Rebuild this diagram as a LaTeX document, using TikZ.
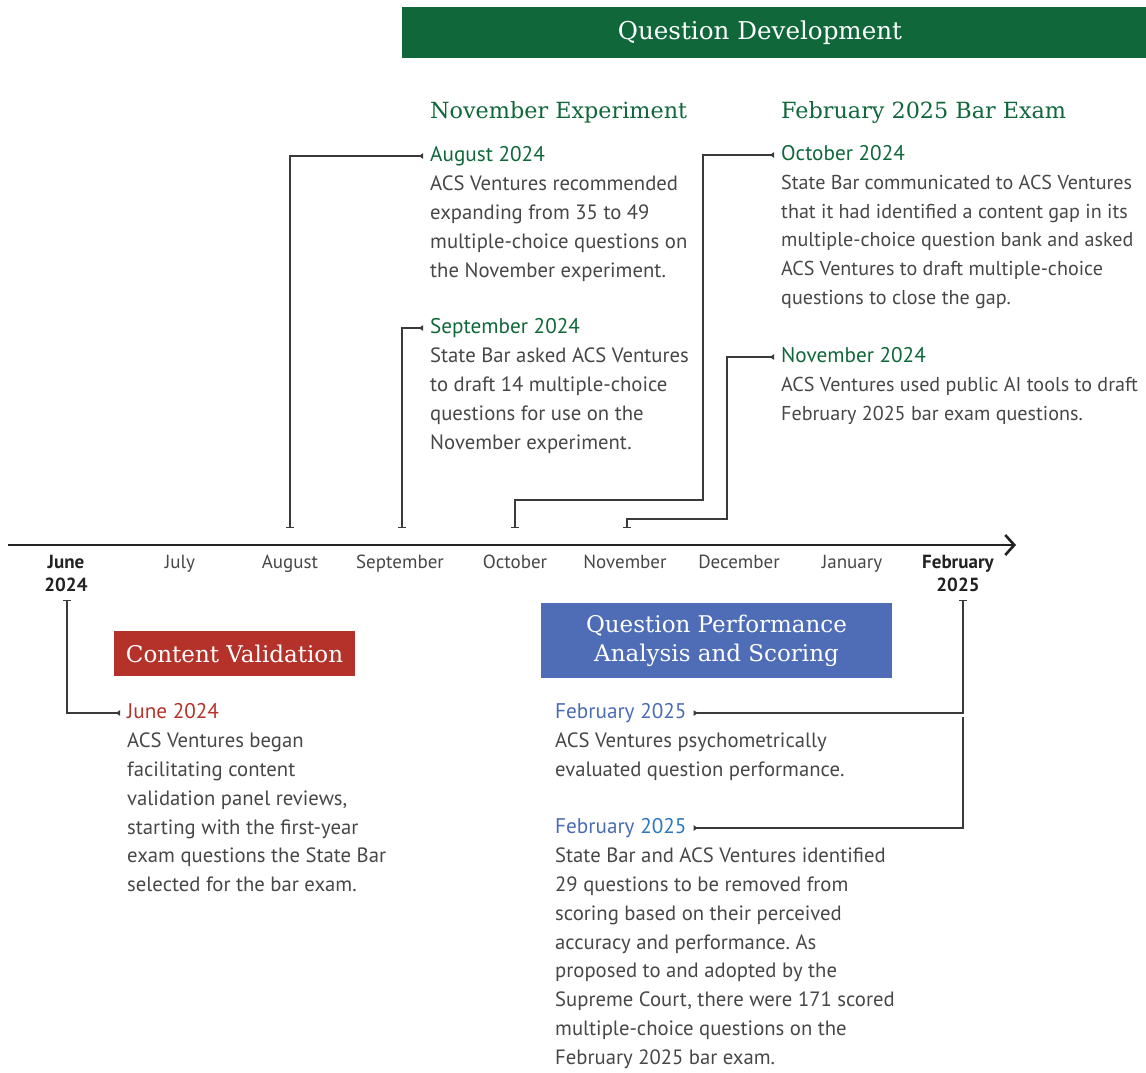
\documentclass[tikz,border=0pt]{standalone}
\usepackage{fontspec}
\setmainfont{PT Sans}
\newfontfamily\slabfont{DejaVu Serif}
\frenchspacing
\usetikzlibrary{arrows.meta, positioning}
\definecolor{devgreen}{HTML}{0F673A}
\definecolor{valred}{HTML}{B5322A}
\definecolor{perfblue}{HTML}{4F6DB7}
\definecolor{perfbluetext}{HTML}{4A6CB5}
\definecolor{brightblue}{HTML}{2B78C0}
\definecolor{bodygray}{HTML}{474747}
\definecolor{axisgray}{HTML}{222222}
\definecolor{conngray}{HTML}{3A3A3A}
\tikzset{
  phasebox/.style={inner sep=0pt, text=white, align=center, font=\slabfont\fontsize{23}{29}\selectfont},
  subhead/.style={anchor=base west, inner sep=0pt, text=devgreen, font=\slabfont\fontsize{22.3}{26}\selectfont},
  datelbl/.style={inner sep=0pt, text height=15pt, text depth=4pt, font=\fontsize{21.2}{25}\selectfont},
  body/.style={anchor=north west, inner sep=0pt, align=left, text=bodygray, font=\fontsize{20.7}{28.8}\selectfont},
  narrowbody/.style={body, font=\fontsize{20.1}{28.8}\selectfont},
  month/.style={anchor=north, inner sep=0pt, align=center, text=bodygray, font=\fontsize{19}{22.5}\selectfont},
  conn/.style={line width=1.1pt, draw=conngray, {Bar[width=8pt,line width=1.1pt]}-{Latex[reversed,length=5pt,width=6pt]}, shorten >=7pt},
  connsplit/.style={line width=1.1pt, draw=conngray, -{Latex[reversed,length=5pt,width=6pt]}, shorten >=7pt},
  axisline/.style={line width=2.6pt, draw=axisgray, -{Straight Barb[length=9pt,width=20pt,line width=2.6pt]}}
}

\begin{document}
\begin{tikzpicture}[x=1pt, y=-1pt]
  \useasboundingbox (0,0) rectangle (1146,1072);

  % phase boxes
  \node[phasebox, fill=devgreen, minimum width=744pt, minimum height=51pt, font=\slabfont\fontsize{24.6}{29}\selectfont] (qdev) at (774,32.5) {Question Development\hspace{28pt}};
  \node[phasebox, fill=valred, minimum width=241pt, minimum height=45pt] (cval) at (234.5,653.5) {Content Validation};
  \node[phasebox, fill=perfblue, minimum width=351pt, minimum height=75pt] (qperf) at (716.5,640.5) {Question Performance\\Analysis and Scoring};

  \node[subhead] (novexp) at (430,118) {November Experiment};
  \node[subhead] (febexam) at (781,118) {February 2025 Bar Exam};

  % timeline
  \coordinate (axstart) at (8,545);
  \coordinate (axend) at (1016,545);
  \draw[axisline] (axstart) -- (axend);

  \node[month, font=\bfseries\fontsize{19}{22.5}\selectfont, text=axisgray] (mjun) at (66,555) {June\\2024};
  \node[month] (mjul) at (180,555) {July};
  \node[month] (maug) at (290,555) {August};
  \node[month] (msep) at (400,555) {September};
  \node[month] (moct) at (515,555) {October};
  \node[month] (mnov) at (625,555) {November};
  \node[month] (mdec) at (739,555) {December};
  \node[month] (mjan) at (852,555) {January};
  \node[month, font=\bfseries\fontsize{19}{22.5}\selectfont, text=axisgray] (mfeb) at (958,555) {February\\2025};

  % events above the line
  \node[datelbl, anchor=west, text=devgreen] (aug) at (430,156) {August 2024};
  \node[body, below=10pt of aug.south west, anchor=north west] (augtxt) {ACS Ventures recommended\\expanding from 35 to 49\\multiple-choice questions on\\the November experiment.};

  \node[datelbl, anchor=west, text=devgreen] (sep) at (430,328) {September 2024};
  \node[body, below=10pt of sep.south west, anchor=north west] (septxt) {State Bar asked ACS Ventures\\to draft 14 multiple-choice\\questions for use on the\\November experiment.};

  \node[datelbl, anchor=west, text=devgreen] (oct) at (781,155) {October 2024};
  \node[narrowbody, below=10pt of oct.south west, anchor=north west] (octtxt) {State Bar communicated to ACS Ventures\\that it had identified a content gap in its\\multiple-choice question bank and asked\\ACS Ventures to draft multiple-choice\\questions to close the gap.};

  \node[datelbl, anchor=west, text=devgreen] (nov) at (781,357) {November 2024};
  \node[narrowbody, below=10pt of nov.south west, anchor=north west] (novtxt) {ACS Ventures used public AI tools to draft\\February 2025 bar exam questions.};

  % events below the line
  \node[datelbl, anchor=west, text=valred] (jun) at (127,713) {June 2024};
  \node[body, below=10pt of jun.south west, anchor=north west] (juntxt) {ACS Ventures began\\facilitating content\\validation panel reviews,\\starting with the first-year\\exam questions the State Bar\\selected for the bar exam.};

  \node[datelbl, anchor=west, text=perfbluetext] (feba) at (555,713) {February 2025};
  \node[body, below=10pt of feba.south west, anchor=north west] (febatxt) {ACS Ventures psychometrically\\evaluated question performance.};

  \node[datelbl, anchor=west, text=perfbluetext] (febb) at (555,828) {February \textcolor{brightblue}{2025}};
  \node[body, below=10pt of febb.south west, anchor=north west] (febbtxt) {State Bar and ACS Ventures identified\\29 questions to be removed from\\scoring based on their perceived\\accuracy and performance. As\\proposed to and adopted by the\\Supreme Court, there were 171 scored\\multiple-choice questions on the\\February 2025 bar exam.};

  % connectors
  \coordinate (tkaug) at (290,528);
  \coordinate (tksep) at (402,528);
  \coordinate (tkoct) at (515,528);
  \coordinate (tknov) at (627,528);
  \coordinate (octbend) at (703,500);
  \coordinate (novbend) at (727,519);
  \coordinate (tkjun) at (67,600);
  \coordinate (tkfeb) at (963,600);
  \coordinate (febsplit) at (963,717);

  \draw[conn] (tkaug) |- (aug.west);
  \draw[conn] (tksep) |- (sep.west);
  \draw[conn] (tkoct) |- (octbend) |- (oct.west);
  \draw[conn] (tknov) |- (novbend) |- (nov.west);
  \draw[conn] (tkjun) |- (jun.west);
  \draw[conn] (tkfeb) |- (feba.east);
  \draw[connsplit] (febsplit) |- (febb.east);
\end{tikzpicture}
\end{document}
